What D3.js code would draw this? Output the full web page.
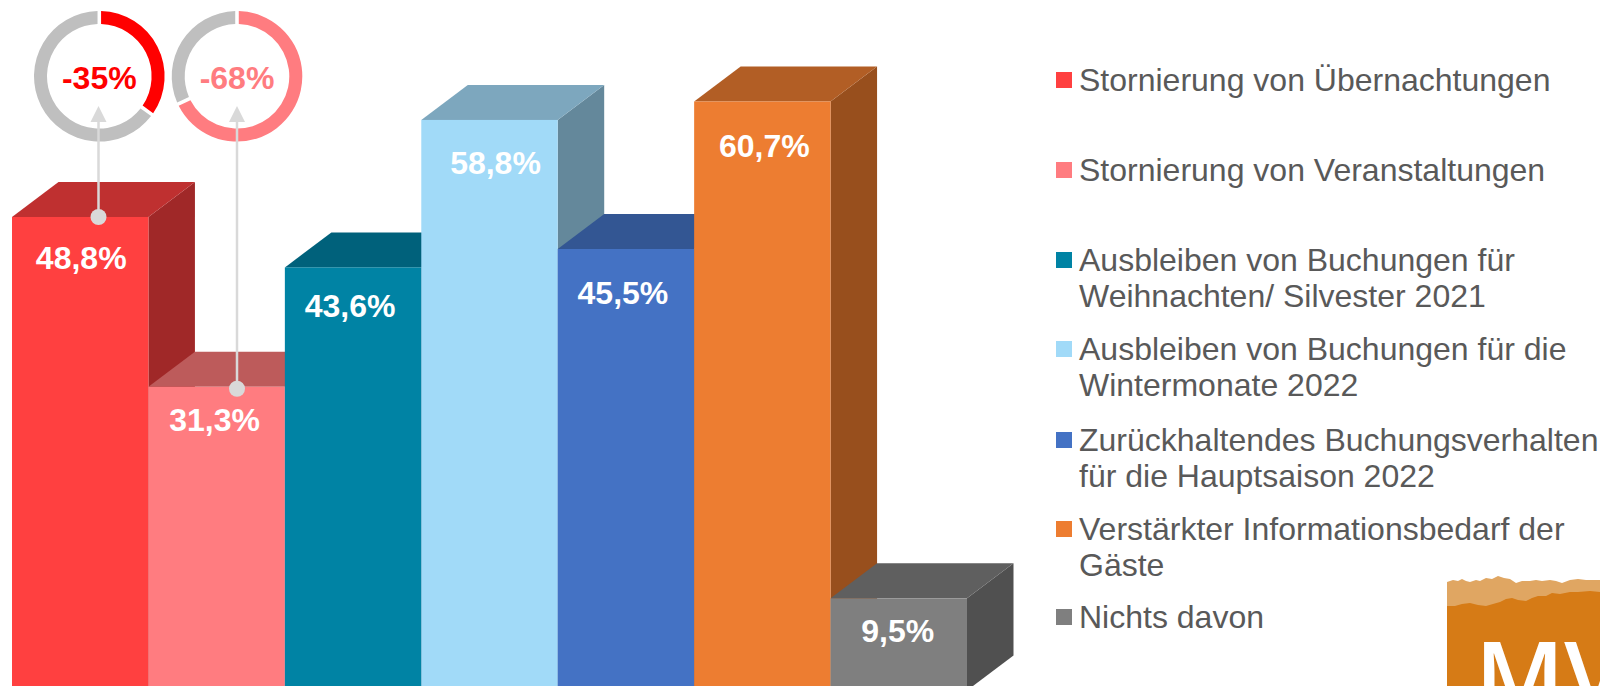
<!DOCTYPE html>
<html><head><meta charset="utf-8">
<script src="https://cdn.jsdelivr.net/npm/d3@7/dist/d3.min.js"></script>
<style>html,body{margin:0;padding:0;background:#fff;overflow:hidden}svg{display:block}text{font-family:"Liberation Sans",Arial,sans-serif}</style>
</head><body><svg id="c" width="1600" height="686"></svg>
<script>
const categories=["Stornierung von Übernachtungen","Stornierung von Veranstaltungen","Ausbleiben von Buchungen für Weihnachten/ Silvester 2021","Ausbleiben von Buchungen für die Wintermonate 2022","Zurückhaltendes Buchungsverhalten für die Hauptsaison 2022","Verstärkter Informationsbedarf der Gäste","Nichts davon"];
const values=[48.8,31.3,43.6,58.8,45.5,60.7,9.5];
const valueLabels=["48,8%","31,3%","43,6%","58,8%","45,5%","60,7%","9,5%"];
const legendLines=[["Stornierung von Übernachtungen"],["Stornierung von Veranstaltungen"],["Ausbleiben von Buchungen für","Weihnachten/ Silvester 2021"],["Ausbleiben von Buchungen für die","Wintermonate 2022"],["Zurückhaltendes Buchungsverhalten","für die Hauptsaison 2022"],["Verstärkter Informationsbedarf der","Gäste"],["Nichts davon"]];
const ringValues=[35,68];
const ringLabels=["-35%","-68%"];
const ringBars=[0,1];

// styles
const front=["#FF4040","#FF7C80","#0083A4","#A1DAF8","#4472C4","#ED7D31","#7F7F7F"];
const topC=["#BF3030","#BD5B5B","#00617B","#7DA7BE","#335693","#B25E25","#5F5F5F"];
const sideC=["#A02828","#A04D50","#005268","#64889B","#2A4779","#984F1D","#505050"];
const ringColor=["#FF0000","#FF7C80"];
const labelDx=[1,-2,-3,6,-3,2,-1];
const labelDy=[41,33,39,43,44,44,33];
const legendY=[80,170,260,349,440,529,617];

const svg=d3.select("#c");
const x=d3.scaleBand().domain(categories).range([12,967]);
const y=d3.scaleLinear().domain([0,60.7]).range([690.5,101.5]);
const DX=46.5,DY=35;
const line=d3.line();

const bars=svg.append("g").selectAll("g").data(categories).join("g");
bars.each(function(c,i){
  const g=d3.select(this),x0=x(c),w=x.bandwidth(),t=y(values[i]),b=y(0);
  g.append("path").attr("fill",sideC[i]).attr("d",line([[x0+w,t],[x0+w+DX,t-DY],[x0+w+DX,b-DY],[x0+w,b]])+"Z");
  g.append("path").attr("fill",topC[i]).attr("d",line([[x0,t],[x0+DX,t-DY],[x0+w+DX,t-DY],[x0+w,t]])+"Z");
  g.append("rect").attr("x",x0).attr("y",t).attr("width",w).attr("height",b-t).attr("fill",front[i]);
});
svg.append("g").selectAll("text").data(categories).join("text")
  .attr("x",(c,i)=>x(c)+x.bandwidth()/2+labelDx[i])
  .attr("y",(c,i)=>y(values[i])+labelDy[i]+11)
  .attr("text-anchor","middle").attr("font-size",32).attr("font-weight","bold").attr("fill","#fff")
  .text((c,i)=>valueLabels[i]);

// rings
const ringCx=[99.3,237];
const ringCy=76.3;
const arc=d3.arc().innerRadius(52.3).outerRadius(65.3).padRadius(59).padAngle(0.06);
const pie=d3.pie().sort(null).value(d=>d);
ringValues.forEach((v,k)=>{
  const g=svg.append("g").attr("transform",`translate(${ringCx[k]},${ringCy})`);
  g.selectAll("path").data(pie([v,100-v])).join("path")
    .attr("d",arc).attr("fill",(d,i)=>i==0?ringColor[k]:"#BFBFBF");
  g.append("text").attr("y",13).attr("x",0).attr("text-anchor","middle").attr("font-size",32).attr("font-weight","bold")
    .attr("fill",ringColor[k]).text(ringLabels[k]);
});
// arrows
ringBars.forEach((bi,k)=>{
  const ax=k==0?98.5:237, t=y(values[bi])+(k==0?0:2);
  const g=svg.append("g");
  g.append("line").attr("x1",ax).attr("x2",ax).attr("y1",t).attr("y2",120).attr("stroke","#D9D9D9").attr("stroke-width",2.5);
  g.append("path").attr("fill","#D9D9D9").attr("d",line([[ax,106],[ax+8,122],[ax-8,122]])+"Z");
  g.append("circle").attr("cx",ax).attr("cy",t).attr("r",8).attr("fill","#D9D9D9");
});

// legend
const lg=svg.append("g").selectAll("g").data(legendLines).join("g");
lg.append("rect").attr("x",1056).attr("y",(d,i)=>legendY[i]-8).attr("width",16).attr("height",16).attr("fill",(d,i)=>front[i]);
lg.each(function(lines,i){
  d3.select(this).selectAll("text").data(lines).join("text")
    .attr("x",1079).attr("y",(d,j)=>legendY[i]+10.5+j*36)
    .attr("font-size",32).attr("fill","#595959").text(d=>d);
});

// logo (decoration)
const logo=svg.append("g");
const clipId="logoClip";
svg.append("defs").append("clipPath").attr("id",clipId).append("rect").attr("x",1447).attr("y",570).attr("width",153).attr("height",116);
logo.attr("clip-path",`url(#${clipId})`);
const topEdge=[[1447,582],[1453,580],[1458,581],[1462,579],[1466,581],[1470,582],[1476,580],[1480,581],[1486,578],[1492,579],[1498,576],[1504,578],[1510,579],[1516,583],[1522,581],[1530,581],[1536,580],[1542,581],[1550,580],[1556,581],[1562,583],[1570,580],[1578,579],[1586,580],[1600,580]];
const midEdge=[[1447,606],[1455,606],[1462,604],[1470,603],[1478,605],[1486,606],[1493,604],[1500,602],[1506,599],[1512,598],[1518,600],[1526,601],[1532,598],[1538,596],[1546,596],[1552,593],[1560,594],[1570,592],[1578,592],[1590,591],[1600,592]];
logo.append("path").attr("fill","#E0A662").attr("d",line(topEdge.concat([[1600,600],[1447,610]]))+"Z");
logo.append("path").attr("fill","#D67B16").attr("d",line(midEdge.concat([[1600,686],[1447,686]]))+"Z");
logo.append("text").attr("x",1475).attr("y",712).attr("font-size",97).attr("fill","#fff").style("font-family","'Open Sans'").attr("font-weight",600).text("MV");
</script></body></html>
